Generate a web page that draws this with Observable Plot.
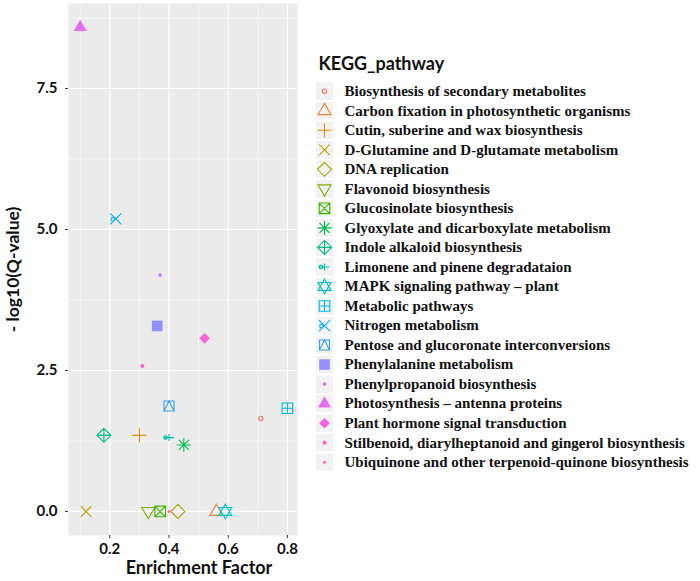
<!DOCTYPE html>
<html><head><meta charset="utf-8">
<script src="https://cdn.jsdelivr.net/npm/d3@7"></script>
<script src="https://cdn.jsdelivr.net/npm/@observablehq/plot@0.6"></script>
<style>
body{margin:0;background:#fff;}
#wrap{position:relative;width:700px;height:581px;}
#chart,#legend{position:absolute;top:0;}
#chart{left:0;}
#legend{left:300px;}
</style></head><body>
<div id="wrap"><div id="chart"></div><div id="legend"></div></div>
<script>
const pathways = [
  "Biosynthesis of secondary metabolites",
  "Carbon fixation in photosynthetic organisms",
  "Cutin, suberine and wax biosynthesis",
  "D-Glutamine and D-glutamate metabolism",
  "DNA replication",
  "Flavonoid biosynthesis",
  "Glucosinolate biosynthesis",
  "Glyoxylate and dicarboxylate metabolism",
  "Indole alkaloid biosynthesis",
  "Limonene and pinene degradataion",
  "MAPK signaling pathway \u2013 plant",
  "Metabolic pathways",
  "Nitrogen metabolism",
  "Pentose and glucoronate interconversions",
  "Phenylalanine metabolism",
  "Phenylpropanoid biosynthesis",
  "Photosynthesis \u2013 antenna proteins",
  "Plant hormone signal transduction",
  "Stilbenoid, diarylheptanoid and gingerol biosynthesis",
  "Ubiquinone and other terpenoid-quinone biosynthesis"
];
const colors = ["#F8766D","#EA8331","#D89000","#C09B00","#A3A500","#7CAE00","#39B600","#00BB4E","#00BF7D","#00C1A3",
                "#00BFC4","#00BAE0","#00B0F6","#35A2FF","#9590FF","#C77CFF","#E76BF3","#FA62DB","#FF62BC","#FF6C91"];
const shapeIds = [1,2,3,4,5,6,7,8,9,10,11,12,13,14,15,16,17,18,19,20];
const enrichmentFactor = [0.71,0.56,0.30,0.12,0.43,0.33,0.37,0.45,0.18,0.40,0.59,0.80,0.22,0.40,0.36,0.37,0.10,0.52,0.31,0.40];
const negLog10Q =        [1.65,0.00,1.35,0.00,0.00,0.00,0.00,1.18,1.35,1.31,0.00,1.83,5.19,1.87,3.29,4.19,8.59,3.07,2.58,0.00];
const xMajorTicks = [0.2,0.4,0.6,0.8];
const xMinorTicks = [0.1,0.3,0.5,0.7];
const yMajorTicks = [0,2.5,5,7.5];
const yMinorTicks = [1.25,3.75,6.25,8.75];
const xDomain = [0.0605,0.834];
const yDomain = [-0.426,9.007];
const filledShapes = [15,16,17,18,19,20];

// ---- ggplot-like shape drawers ----
function poly(c,pts,k){c.moveTo(pts[0][0]*k,pts[0][1]*k);for(let i=1;i<pts.length;i++)c.lineTo(pts[i][0]*k,pts[i][1]*k);c.closePath();}
function ln(c,x1,y1,x2,y2,k){c.moveTo(x1*k,y1*k);c.lineTo(x2*k,y2*k);}
function circ(c,x,y,r,k){c.moveTo((x+r)*k,y*k);c.arc(x*k,y*k,r*k,0,2*Math.PI);}
function sq(c,h,k){poly(c,[[-h,-h],[h,-h],[h,h],[-h,h]],k);}
const triUp=[[0,-7.3],[6.5,3.9],[-6.5,3.9]], triDn=[[0,7.3],[6.5,-3.9],[-6.5,-3.9]];
const drawers = {
  1:(c,k)=>circ(c,0,0,2.2,k),
  2:(c,k)=>poly(c,triUp,k),
  3:(c,k)=>{ln(c,-7,0,7,0,k);ln(c,0,-7,0,7,k);},
  4:(c,k)=>{ln(c,-5.3,-5.3,5.3,5.3,k);ln(c,-5.3,5.3,5.3,-5.3,k);},
  5:(c,k)=>poly(c,[[0,-7],[7,0],[0,7],[-7,0]],k),
  6:(c,k)=>poly(c,triDn,k),
  7:(c,k)=>{sq(c,5.3,k);ln(c,-5.3,-5.3,5.3,5.3,k);ln(c,-5.3,5.3,5.3,-5.3,k);},
  8:(c,k)=>{ln(c,-7,0,7,0,k);ln(c,0,-7,0,7,k);ln(c,-5,-5,5,5,k);ln(c,-5,5,5,-5,k);},
  9:(c,k)=>{poly(c,[[0,-7],[7,0],[0,7],[-7,0]],k);ln(c,-7,0,7,0,k);ln(c,0,-7,0,7,k);},
  10:(c,k)=>{ln(c,-5,0,5,0,k);ln(c,0,-3.5,0,3.5,k);circ(c,-3.5,0,1.8,k);},
  11:(c,k)=>{poly(c,triUp,k);poly(c,triDn,k);},
  12:(c,k)=>{sq(c,5.3,k);ln(c,-5.3,0,5.3,0,k);ln(c,0,-5.3,0,5.3,k);},
  13:(c,k)=>{ln(c,-5.5,-5.5,5.5,5.5,k);ln(c,-5.5,5.5,5.5,-5.5,k);circ(c,-3,0.5,1.8,k);},
  14:(c,k)=>{sq(c,5,k);poly(c,[[-5,5],[0,-5],[5,5]],k);},
  15:(c,k)=>sq(c,5.3,k),
  16:(c,k)=>circ(c,0,0,1.8,k),
  17:(c,k)=>poly(c,triUp,k),
  18:(c,k)=>poly(c,[[0,-5.3],[5.3,0],[0,5.3],[-5.3,0]],k),
  19:(c,k)=>circ(c,0,0,2,k),
  20:(c,k)=>circ(c,0,0,1.5,k)
};
const symbols = shapeIds.map(id => ({draw(c,size){const k=Math.sqrt(size/Math.PI)/6; drawers[id](c,k);}}));
const keyBox = {draw(c,size){const k=Math.sqrt(size/Math.PI)/6; sq(c,8.7,k);}};

const idx = d3.range(pathways.length);
const openIdx = idx.filter(i => !filledShapes.includes(shapeIds[i]));
const fillIdx = idx.filter(i => filledShapes.includes(shapeIds[i]));

const sans = "Lato, 'Open Sans', sans-serif";
const serif = "'Liberation Serif', 'Times New Roman', serif";

const chart = Plot.plot({
  width: 300, height: 581,
  marginLeft: 68, marginRight: 3, marginTop: 3, marginBottom: 46,
  style: {fontFamily: sans, fontWeight: "bold", fontSize: "15px", color: "#111", background: "transparent"},
  x: {domain: xDomain, label: null},
  y: {domain: yDomain, label: null},
  color: {type: "ordinal", domain: pathways, range: colors},
  symbol: {domain: pathways, range: symbols},
  marks: [
    Plot.frame({fill: "#EBEBEB", stroke: "none"}),
    Plot.gridX({ticks: xMinorTicks, stroke: "white", strokeOpacity: 1, strokeWidth: 0.6}),
    Plot.gridY({ticks: yMinorTicks, stroke: "white", strokeOpacity: 1, strokeWidth: 0.6}),
    Plot.gridX({ticks: xMajorTicks, stroke: "white", strokeOpacity: 1, strokeWidth: 1.2}),
    Plot.gridY({ticks: yMajorTicks, stroke: "white", strokeOpacity: 1, strokeWidth: 1.2}),
    Plot.axisX({ticks: xMajorTicks, tickFormat: d3.format(".1f"), tickSize: 3, tickPadding: 5, label: null, stroke: "#333", fill: "#111", fontSize: 15}),
    Plot.axisY({ticks: yMajorTicks, tickFormat: d3.format(".1f"), tickSize: 3, tickPadding: 8, label: null, stroke: "#333", fill: "#111", fontSize: 15}),
    Plot.text(["- log10(Q-value)"], {frameAnchor: "left", rotate: -90, dx: -55, textAnchor: "middle", lineAnchor: "middle", fontSize: 17.5, fill: "#111"}),
    Plot.text(["Enrichment Factor"], {frameAnchor: "bottom", dx: 16, dy: 33, textAnchor: "middle", lineAnchor: "middle", fontSize: 18, fill: "#111"}),
    Plot.dot(openIdx, {x: i => enrichmentFactor[i], y: i => negLog10Q[i], symbol: i => pathways[i], stroke: i => pathways[i], fill: "none", r: 6, strokeWidth: 1.1}),
    Plot.dot(fillIdx, {x: i => enrichmentFactor[i], y: i => negLog10Q[i], symbol: i => pathways[i], fill: i => pathways[i], stroke: "none", r: 6})
  ]
});
document.getElementById("chart").append(chart);

const legend = Plot.plot({
  width: 400, height: 581, margin: 0,
  style: {fontFamily: sans, color: "#111", background: "transparent"},
  x: {axis: null},
  y: {type: "band", domain: pathways, range: [80.9, 471.5], padding: 0, round: false, axis: null},
  color: {type: "ordinal", domain: pathways, range: colors},
  symbol: {domain: pathways, range: symbols},
  marks: [
    Plot.text(["KEGG_pathway"], {frameAnchor: "top-left", dx: 18, dy: 64, textAnchor: "start", lineAnchor: "middle", fontFamily: sans, fontSize: 18, fontWeight: "bold", fill: "#111"}),
    Plot.dot(pathways, {y: d => d, frameAnchor: "left", dx: 24, symbol: keyBox, fill: "#F2F2F2", stroke: "none", r: 6}),
    Plot.dot(openIdx, {y: i => pathways[i], frameAnchor: "left", dx: 24, symbol: i => pathways[i], stroke: i => pathways[i], fill: "none", r: 6, strokeWidth: 1.1}),
    Plot.dot(fillIdx, {y: i => pathways[i], frameAnchor: "left", dx: 24, symbol: i => pathways[i], fill: i => pathways[i], stroke: "none", r: 6}),
    Plot.text(pathways, {y: d => d, frameAnchor: "left", dx: 44, textAnchor: "start", fontFamily: serif, fontSize: 15, fontWeight: "bold", fill: "#111"})
  ]
});
document.getElementById("legend").append(legend);
</script>
</body></html>
